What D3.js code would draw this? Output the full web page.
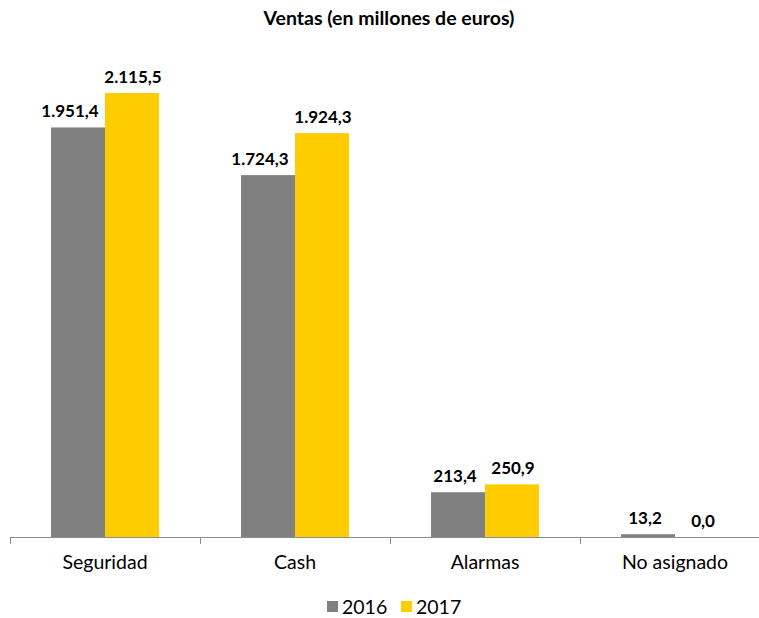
<!DOCTYPE html>
<html lang="es">
<head>
<meta charset="UTF-8" />
<title>Ventas</title>
<style>
  body { margin: 0; background: #fff; }
  svg text { font-family: Lato, "Open Sans", sans-serif; fill: #000; }
</style>
</head>
<body>
<script src="https://cdn.jsdelivr.net/npm/d3@7"></script>
<div id="app"></div>
<script>
// datos
const categorias = ["Seguridad", "Cash", "Alarmas", "No asignado"];
const series = ["2016", "2017"];
const ventas2016 = [1951.4, 1724.3, 213.4, 13.2];
const ventas2017 = [2115.5, 1924.3, 250.9, 0.0];
const colores = ["#808080", "#ffcc00"];

const w = 759, h = 618;
const svg = d3.select("#app").append("svg")
  .attr("width", w).attr("height", h);

// titulo
svg.append("text")
  .attr("x", 389).attr("y", 25)
  .attr("text-anchor", "middle")
  .style("font-size", "19.5px").style("font-weight", "bold")
  .text("Ventas (en millones de euros)");

// escalas
const xScale = d3.scaleBand()
  .domain(categorias)
  .range([10, 770])
  .paddingInner(0).paddingOuter(0);

const xSub = d3.scaleBand()
  .domain(series)
  .range([0, xScale.bandwidth()])
  .paddingInner(0).paddingOuter(0.76);

const yScale = d3.scaleLinear()
  .domain([0, 2500])
  .range([537, 12.3]);

const fmt = v => {
  const s = d3.format(",.1f")(v);
  return s.replace(/,/g, "#").replace(".", ",").replace(/#/g, ".");
};

const filas = categorias.map((c, i) => ({
  cat: c,
  valores: [ventas2016[i], ventas2017[i]]
}));

// barras
const grupos = svg.selectAll("g.cat")
  .data(filas).enter().append("g")
  .attr("class", "cat")
  .attr("transform", d => "translate(" + xScale(d.cat) + ",0)");

grupos.selectAll("rect")
  .data(d => d.valores.map((v, j) => ({ serie: series[j], v: v, j: j })))
  .enter().append("rect")
  .attr("x", d => xSub(d.serie))
  .attr("width", xSub.bandwidth())
  .attr("y", d => yScale(d.v))
  .attr("height", d => yScale(0) - yScale(d.v))
  .attr("fill", d => colores[d.j]);

// etiquetas (las de 2016 se apartan un poco si la barra vecina es alta)
grupos.selectAll("text")
  .data(d => d.valores.map((v, j) => ({ serie: series[j], v: v, j: j, otro: d.valores[1 - j] })))
  .enter().append("text")
  .attr("x", d => xSub(d.serie) + xSub.bandwidth() / 2)
  .attr("dx", d => (d.j === 0 && d.otro > 1000) ? -8 : (d.j === 0 ? -3 : 1))
  .attr("y", d => yScale(d.v) - 10)
  .attr("text-anchor", "middle")
  .style("font-size", "17px").style("font-weight", "bold")
  .text(d => fmt(d.v));

// eje x
const xAxis = d3.axisBottom(xScale).tickSize(0).tickPadding(18);
const gx = svg.append("g")
  .attr("transform", "translate(0," + yScale(0) + ")")
  .call(xAxis);
gx.select(".domain").remove();
gx.selectAll("text").style("font-size", "19.5px").style("font-family", "Lato, 'Open Sans', sans-serif");
gx.append("line")
  .attr("x1", 10).attr("x2", w).attr("y1", 0.5).attr("y2", 0.5)
  .attr("stroke", "#8c8c8c");
gx.selectAll("line.sep")
  .data(categorias).enter().append("line")
  .attr("class", "sep")
  .attr("x1", d => Math.round(xScale(d)) + 0.5)
  .attr("x2", d => Math.round(xScale(d)) + 0.5)
  .attr("y1", 0).attr("y2", 7)
  .attr("stroke", "#8c8c8c");

// leyenda
const leyenda = svg.append("g").attr("transform", "translate(327,601)");
const posLeg = [0, 74];
series.forEach((s, i) => {
  leyenda.append("rect")
    .attr("x", posLeg[i]).attr("y", 0)
    .attr("width", 11).attr("height", 11)
    .attr("fill", colores[i]);
  leyenda.append("text")
    .attr("x", posLeg[i] + 15).attr("y", 13)
    .style("font-size", "19.5px")
    .text(s);
});
</script>
</body>
</html>
